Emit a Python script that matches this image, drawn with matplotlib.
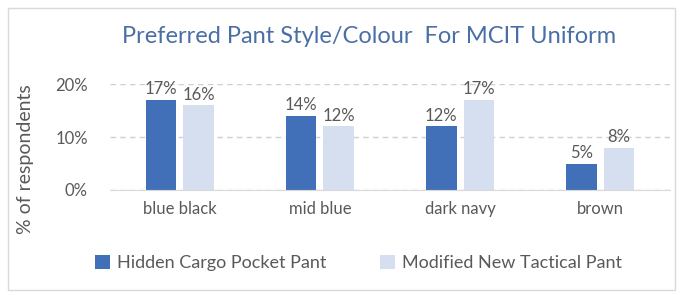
import matplotlib.pyplot as plt
import numpy as np
from matplotlib.patches import Rectangle

categories = ["blue black", "mid blue", "dark navy", "brown"]
hidden_cargo = [17, 14, 12, 5]
modified_tactical = [16, 12, 17, 8]
series_names = ["Hidden Cargo Pocket Pant", "Modified New Tactical Pant"]

plt.rcParams['font.family'] = ['Lato', 'DejaVu Sans']

fig = plt.figure(figsize=(6.83, 2.95), dpi=100)
ax = fig.add_axes([0.161, 0.356, 0.82, 0.359])

# outer chart border
fig.patches.append(Rectangle((0.012, 0.017), 0.976, 0.955, transform=fig.transFigure,
                             fill=False, edgecolor="#d9d9d9", linewidth=1.0))

x = np.arange(len(categories))
w = 0.22
b1 = ax.bar(x - w / 2 - 0.025, hidden_cargo, w, color="#4170b8", label=series_names[0])
b2 = ax.bar(x + w / 2 + 0.025, modified_tactical, w, color="#d5dff0", label=series_names[1])

for bars, vals in [(b1, hidden_cargo), (b2, modified_tactical)]:
    for bar, v in zip(bars, vals):
        ax.text(bar.get_x() + bar.get_width() / 2, v + 0.5, f"{v}%",
                ha="center", va="bottom", fontsize=12, color="#595959")

ax.set_xlim(-0.5, 3.5)
ax.set_ylim(0, 20)
ax.set_yticks([0, 10, 20])
ax.set_yticklabels(["0%", "10%", "20%"])
ax.set_xticks(x)
ax.set_xticklabels(categories)
ax.tick_params(axis="both", length=0, labelsize=12, labelcolor="#595959")
ax.tick_params(axis="y", pad=16)
ax.tick_params(axis="x", pad=8)
ax.yaxis.grid(True, linestyle=(0, (4, 3)), color="#d0d0d0", linewidth=1)
ax.set_axisbelow(True)
for s in ["top", "right", "left"]:
    ax.spines[s].set_visible(False)
ax.spines["bottom"].set_color("#d9d9d9")

fig.text(0.037, 0.46, "% of respondents", rotation=90, ha="center", va="center",
         fontsize=14, color="#595959")
fig.text(0.54, 0.875, "Preferred Pant Style/Colour  For MCIT Uniform", ha="center",
         va="center", fontsize=17, color="#4a6fa5")

fig.legend(handles=[b1, b2], loc="center", bbox_to_anchor=(0.525, 0.108), ncol=2,
           frameon=False, fontsize=13, labelcolor="#595959", handlelength=0.8,
           handleheight=0.8, handletextpad=0.4, columnspacing=3.0)

fig.savefig("out.png", dpi=100)
